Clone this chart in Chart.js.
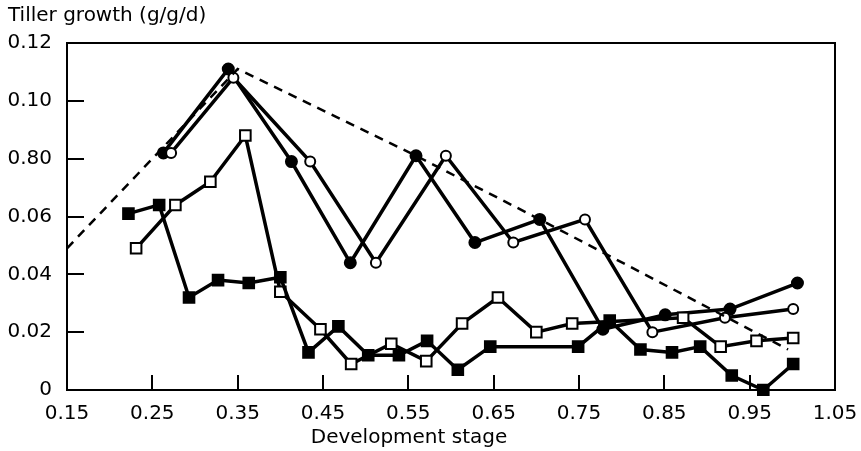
<!DOCTYPE html>
<html>
<head>
<meta charset="utf-8">
<script src="https://cdn.jsdelivr.net/npm/chart.js@4/dist/chart.umd.min.js"></script>
<style>
  html, body { margin: 0; padding: 0; background: #fff; }
  #wrap { width: 861px; height: 451px; }
</style>
</head>
<body>
<div id="wrap"><canvas id="tillerChart"></canvas></div>
<script>
// Tick labels as printed on the axes
const xTickLabels = ["0.15", "0.25", "0.35", "0.45", "0.55", "0.65", "0.75", "0.85", "0.95", "1.05"];
const yTickLabels = ["0", "0.02", "0.04", "0.06", "0.80", "0.10", "0.12"];

// Filled circles
const filledCircleX = [0.263, 0.339, 0.413, 0.482, 0.559, 0.628, 0.704, 0.778, 0.851, 0.927, 1.006];
const filledCircleY = [0.082, 0.111, 0.079, 0.044, 0.081, 0.051, 0.059, 0.021, 0.026, 0.028, 0.037];

// Open circles
const openCircleX = [0.272, 0.345, 0.435, 0.512, 0.594, 0.673, 0.757, 0.836, 0.921, 1.001];
const openCircleY = [0.082, 0.108, 0.079, 0.044, 0.081, 0.051, 0.059, 0.020, 0.025, 0.028];

// Open squares
const openSquareX = [0.231, 0.277, 0.318, 0.359, 0.400, 0.447, 0.483, 0.530, 0.571, 0.613, 0.655, 0.700, 0.742, 0.872, 0.916, 0.958, 1.001];
const openSquareY = [0.049, 0.064, 0.072, 0.088, 0.034, 0.021, 0.009, 0.016, 0.010, 0.023, 0.032, 0.020, 0.023, 0.025, 0.015, 0.017, 0.018];

// Filled squares
const filledSquareX = [0.222, 0.258, 0.293, 0.327, 0.363, 0.400, 0.433, 0.468, 0.503, 0.539, 0.572, 0.608, 0.646, 0.749, 0.786, 0.822, 0.859, 0.892, 0.929, 0.966, 1.001];
const filledSquareY = [0.061, 0.064, 0.032, 0.038, 0.037, 0.039, 0.013, 0.022, 0.012, 0.012, 0.017, 0.007, 0.015, 0.015, 0.024, 0.014, 0.013, 0.015, 0.005, 0.000, 0.009];

// Dashed upper envelope
const envelopeX = [0.15, 0.35, 0.559, 0.704, 0.995];
const envelopeY = [0.049, 0.111, 0.081, 0.059, 0.014];

const FONT = "'DejaVu Sans', 'Liberation Sans', Arial, sans-serif";

function toPoints(xs, ys) {
    return xs.map((x, i) => ({ x: x, y: ys[i] }));
}

function series(xs, ys, style, filled, radius) {
    return {
        data: toPoints(xs, ys),
        showLine: true,
        borderColor: "#000",
        borderWidth: 3.5,
        tension: 0,
        pointStyle: style,
        pointRadius: radius,
        pointHoverRadius: radius,
        pointBackgroundColor: filled ? "#000" : "#fff",
        pointBorderColor: "#000",
        pointBorderWidth: 2,
        clip: 6
    };
}

// Frame, inward tick marks and free-standing labels
const decorations = {
    id: "decorations",
    afterDraw(chart) {
        const ctx = chart.ctx;
        const area = chart.chartArea;
        const xs = chart.scales.x;
        const ys = chart.scales.y;
        ctx.save();
        ctx.strokeStyle = "#000";
        ctx.lineWidth = 2;
        ctx.beginPath();
        ctx.moveTo(area.left, area.top);
        ctx.lineTo(area.right, area.top);
        ctx.lineTo(area.right, area.bottom);
        ctx.stroke();

        ctx.beginPath();
        for (let v = 0.25; v < 1.0; v += 0.1) {
            const px = Math.round(xs.getPixelForValue(v));
            ctx.moveTo(px, area.bottom);
            ctx.lineTo(px, area.bottom - 15);
        }
        for (let v = 0.02; v < 0.11; v += 0.02) {
            const py = Math.round(ys.getPixelForValue(v));
            ctx.moveTo(area.left, py);
            ctx.lineTo(area.left + 17, py);
        }
        ctx.stroke();

        ctx.fillStyle = "#000";
        ctx.font = "20px " + FONT;
        ctx.textBaseline = "alphabetic";
        ctx.textAlign = "left";
        ctx.fillText("Tiller growth (g/g/d)", 8, 21);
        ctx.textAlign = "center";
        ctx.fillText("Development stage", 409, 443);
        ctx.restore();
    }
};

new Chart(document.getElementById("tillerChart"), {
    type: "scatter",
    data: {
        datasets: [
            {
                data: toPoints(envelopeX, envelopeY),
                showLine: true,
                borderColor: "#000",
                borderWidth: 2.5,
                borderDash: [9, 7],
                pointRadius: 0,
                tension: 0
            },
            series(filledSquareX, filledSquareY, "rect", true, 7.5),
            series(openSquareX, openSquareY, "rect", false, 7.5),
            series(openCircleX, openCircleY, "circle", false, 5),
            series(filledCircleX, filledCircleY, "circle", true, 5.5)
        ]
    },
    options: {
        responsive: true,
        maintainAspectRatio: false,
        animation: false,
        layout: { padding: { top: 43, right: 26, bottom: 0, left: 0 } },
        plugins: {
            legend: { display: false },
            tooltip: { enabled: false }
        },
        scales: {
            x: {
                type: "linear",
                min: 0.15,
                max: 1.05,
                afterFit: scale => {
                    scale.height = 61;
                    scale.paddingLeft = 0;
                    scale.paddingRight = 0;
                },
                afterBuildTicks: scale => {
                    scale.ticks = xTickLabels.map(t => ({ value: parseFloat(t) }));
                },
                ticks: {
                    color: "#000",
                    padding: 12,
                    maxRotation: 0,
                    font: { family: FONT, size: 20 },
                    callback: (value, index) => xTickLabels[index]
                },
                grid: { display: true, drawOnChartArea: false, drawTicks: false },
                border: { display: true, color: "#000", width: 2 }
            },
            y: {
                type: "linear",
                min: 0,
                max: 0.12,
                afterFit: scale => {
                    scale.width = 67;
                    scale.paddingTop = 0;
                    scale.paddingBottom = 0;
                },
                afterBuildTicks: scale => {
                    scale.ticks = yTickLabels.map((t, i) => ({ value: i * 0.02 }));
                },
                ticks: {
                    color: "#000",
                    padding: 15,
                    font: { family: FONT, size: 20 },
                    callback: (value, index) => yTickLabels[index]
                },
                grid: { display: true, drawOnChartArea: false, drawTicks: false },
                border: { display: true, color: "#000", width: 2 }
            }
        }
    },
    plugins: [decorations]
});
</script>
</body>
</html>
